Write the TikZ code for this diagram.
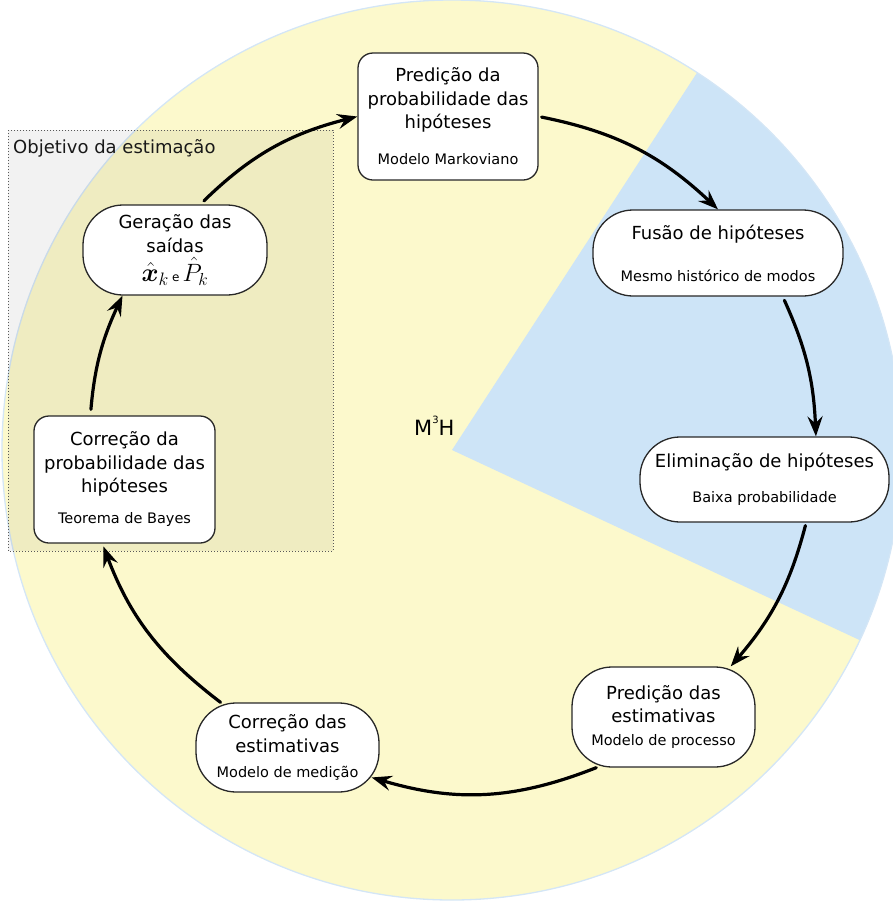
\documentclass[tikz,border=0pt]{standalone}
\usepackage{amsmath}
\usepackage{bm}
\usepackage{graphicx}
\usepackage{fontspec}
\setmainfont{DejaVu Sans}
\usetikzlibrary{arrows.meta}

\newcommand\mainsize{\fontsize{18}{23.5}\selectfont}
\newcommand\notesize{\fontsize{14.5}{16}\selectfont}

\definecolor{disc}{RGB}{252,249,204}
\definecolor{sector}{RGB}{205,228,247}
\definecolor{rim}{RGB}{212,230,246}
\definecolor{edge}{RGB}{40,40,40}

\tikzset{
  box/.style={draw=edge, line width=1.3pt, fill=white, rounded corners=15pt,
    align=center, inner sep=0pt, font=\mainsize},
  pill/.style={box, rounded corners=40pt},
  flow/.style={line width=3.2pt, line cap=round,
    -{Stealth[length=20pt,width=15pt,inset=7pt]}},
}

\begin{document}
\begin{tikzpicture}[x=1pt,y=1pt]
\useasboundingbox (0,0) rectangle (893,-903);

% background disc with the blue sector
\coordinate (c) at (452,-450);
\fill[disc] (c) circle[radius=450];
\fill[sector] (c) -- ++(57:450) arc[start angle=57,end angle=-25,radius=450] -- cycle;
\draw[rim, line width=1.3pt] (c) circle[radius=450];

% estimation goal area
\fill[black, opacity=0.05] (8,-130) rectangle (333,-551);
\draw[black!65, line width=1pt, dash pattern=on 1pt off 2pt] (8,-130) rectangle (333,-551);
\node[anchor=base west, font=\mainsize, text=black!90, inner sep=0pt] (goal) at (13,-153) {Objetivo da estimação};

% centre label
\node[anchor=base west, font=\fontsize{21}{25}\selectfont, inner sep=0pt] (mmh) at (414,-435)
  {M\raisebox{11.5pt}{\fontsize{10}{10}\selectfont 3}H};

% steps of the cycle
\node[box, minimum width=180pt, minimum height=127pt] (p1) at (448,-116.5)
  {Predição da\\probabilidade das\\hipóteses\\[12.5pt]{\notesize Modelo Markoviano}};
\node[pill, minimum width=250pt, minimum height=86pt] (fus) at (718,-253)
  {Fusão de hipóteses\\[18.5pt]{\notesize Mesmo histórico de modos}};
\node[pill, minimum width=249pt, minimum height=85pt] (eli) at (764.5,-479.5)
  {Eliminação de hipóteses\\[11.5pt]{\notesize Baixa probabilidade}};
\node[pill, minimum width=183pt, minimum height=100pt] (pe) at (663.5,-717)
  {Predição das\\estimativas\\[-0.5pt]{\notesize Modelo de processo}};
\node[pill, minimum width=183pt, minimum height=89pt] (ce) at (287.5,-747.5)
  {Correção das\\estimativas\\[1.5pt]{\notesize Modelo de medição}};
\node[box, minimum width=181pt, minimum height=127pt] (cp) at (124.5,-479.5)
  {Correção da\\probabilidade das\\hipóteses\\[7.5pt]{\notesize Teorema de Bayes}};
\node[pill, minimum width=184pt, minimum height=90pt] (gen) at (175,-250)
  {Geração das\\saídas\\[4pt]\scalebox{1.5}{$\hat{\bm{x}}_k$}\kern3pt{\fontsize{12}{14}\selectfont e}\kern3pt\scalebox{1.45}{$\hat{P}_k$}};

% cycle arrows
\draw[flow, shorten <=5pt] (gen.61) to[bend left=15] (p1.west);
\draw[flow, shorten <=3pt] (p1.east) to[bend left=16] (fus.north);
\draw[flow, shorten <=4pt] (fus.-34) to[bend left=11] (eli.40);
\draw[flow, shorten <=3pt] (eli.-46) to[bend left=13] (pe.37);
\draw[flow] (pe.-143) to[bend left=19] ([xshift=-8pt]ce.-18);
\draw[flow, shorten >=3pt] (ce.146) to[bend left=16] (cp.-109);
\draw[flow, shorten <=6pt] (cp.118) to[bend left=10] (gen.-139);
\end{tikzpicture}
\end{document}
